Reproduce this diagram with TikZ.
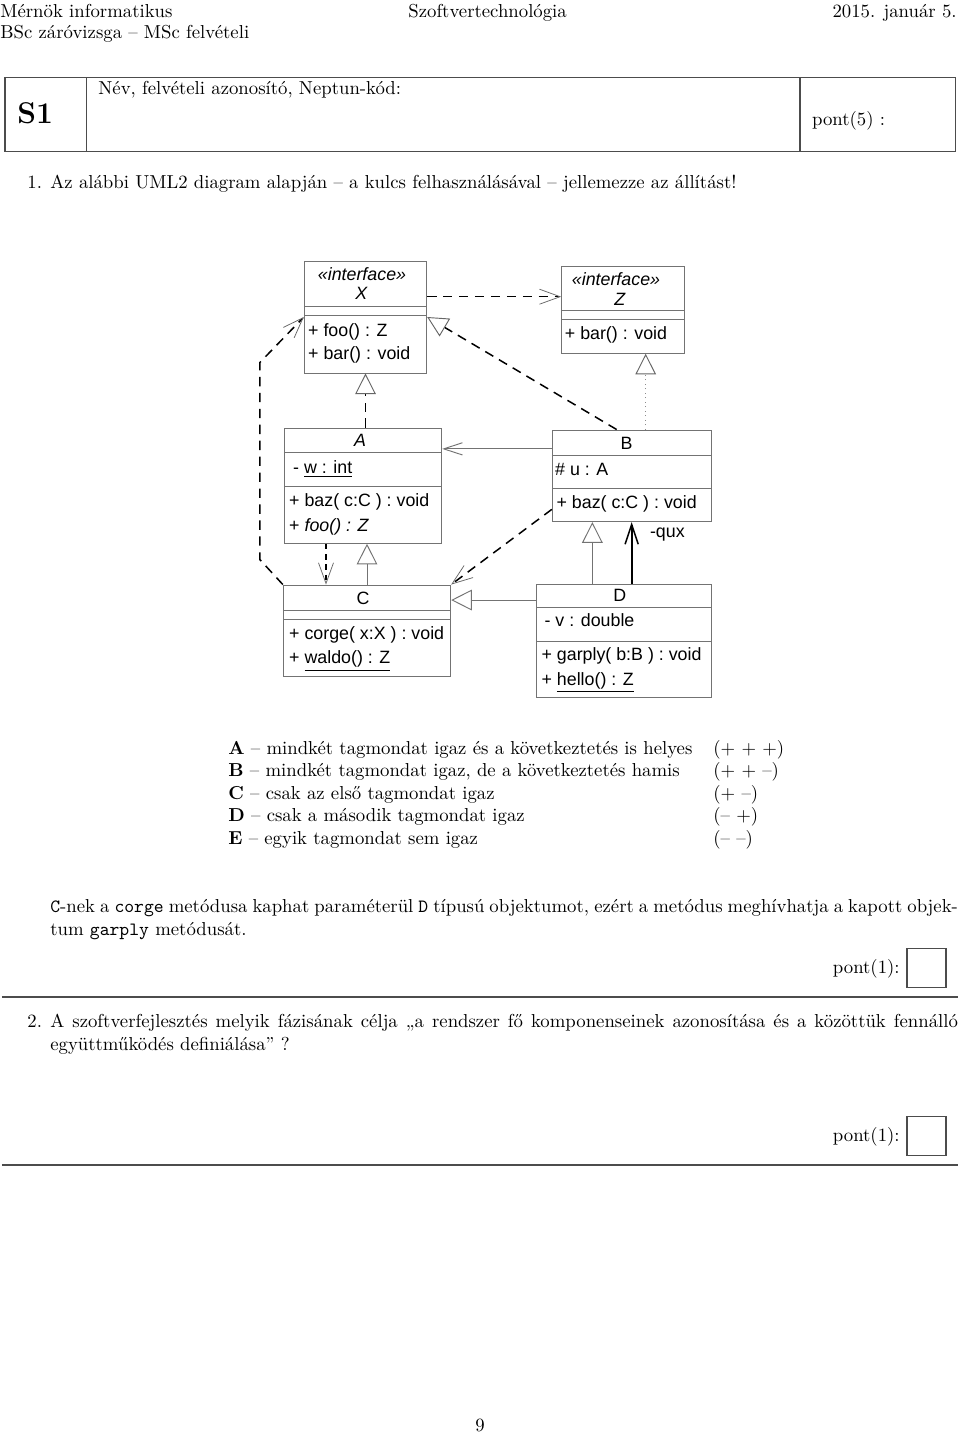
\documentclass[tikz,border=0pt]{standalone}
\usepackage{fontspec}
\newfontfamily\umlfont{Liberation Sans}
\usepackage{tikz}
\usetikzlibrary{arrows.meta, calc, fit}
\tikzset{
  %% Styles %%
  classbox/.style = {draw=black!55, line width=0.5pt, inner sep=0pt},
  sepline/.style = {draw=black!55, line width=0.5pt},
  member/.style = {font=\umlfont\fontsize{9.5}{11}\selectfont, inner sep=0pt, anchor=base west},
  classname/.style = {member, anchor=base},
  %% Connectors
  depline/.style = {
    line width=0.8pt, dash pattern=on 5pt off 3.5pt,
    -{Straight Barb[length=11pt, width=8pt, line width=0.4pt, color=black!60]},
  },
  realline/.style = {
    line width=0.8pt, dash pattern=on 5pt off 3.5pt,
    -{Triangle[open, length=11pt, width=11pt, line width=0.5pt, color=black!60, fill=white]},
  },
  genline/.style = {
    draw=black!55, line width=0.5pt,
    -{Triangle[open, length=11pt, width=11pt, line width=0.5pt, fill=white]},
  },
  assocline/.style = {draw=black!55, line width=0.5pt, -{Straight Barb[length=10pt, width=6.5pt]}},
  navline/.style = {line width=1pt, -{Straight Barb[length=10.5pt, width=7pt, line width=0.8pt]}},
  tablebox/.style = {draw=black!70, line width=0.6pt},
}

\begin{document}
\begin{tikzpicture}[x=0.5333pt, y=-0.5333pt, every node/.style={inner sep=0pt}]
  \useasboundingbox (0,0) rectangle (960,1435);

  % Header
  \node[anchor=base west] (hleft) at (0,17) {Mérnök informatikus};
  \node[anchor=base west] (hmid) at (408,17) {Szoftvertechnológia};
  \node[anchor=base east] (hright) at (957,17) {2015. január 5.};
  \node[anchor=base west] (hleft2) at (0,38) {BSc záróvizsga -- MSc felvételi};

  % Name table
  \draw[tablebox] (5,77.3) rectangle (955.7,151.7);
  \draw[tablebox] (86.7,77.3) -- (86.7,151.7);
  \draw[tablebox] (800,77.3) -- (800,151.7);
  \node[anchor=base, font=\bfseries\fontsize{16}{19}\selectfont] (sone) at (35.3,123.3) {S1};
  \node[anchor=base west] (name) at (98,94.5) {Név, felvételi azonosító, Neptun-kód:};
  \node[anchor=base west] (pontfive) at (811.7,125.3) {pont(5) :};

  \node[anchor=base west] (qnoone) at (27,188) {1.};
  \node[anchor=base west] (qone) at (50,188) {Az alábbi UML2 diagram alapján -- a kulcs felhasználásával -- jellemezze az állítást!};

  % Classes
  \node[classbox, fit={(304.3,261) (426.7,373)}] (X) {};
  \node[classbox, fit={(561.7,266.7) (684.3,353.3)}] (Z) {};
  \node[classbox, fit={(284.3,428.3) (441.7,543.3)}] (A) {};
  \node[classbox, fit={(552.3,430) (711,521.7)}] (B) {};
  \node[classbox, fit={(283.3,585) (450.7,676)}] (C) {};
  \node[classbox, fit={(536.7,584) (711,697.7)}] (D) {};
  \foreach \cls/\dy in {X/45.7, X/54.7, Z/44.3, Z/53.3, A/25, A/58.4, B/26, B/59.3, C/25.7, C/35, D/24.3, D/58.3}
    \draw[sepline] ($(\cls.north west)+(0,\dy)$) -- ($(\cls.north east)+(0,\dy)$);
  \foreach \cls/\dx/\dy/\txt [count=\k] in {X/-3.5/20/{\textit{«interface»}}, X/-4/39/{\textit{X}},
      Z/-7/19/{\textit{«interface»}}, Z/-3/39.3/{\textit{Z}}, A/-3/18.4/{\textit{A}},
      B/-5/20/B, C/-4/20/C, D/-4/18/D}
    \node[classname] (cname\k) at ($(\cls.north)+(\dx,\dy)$) {\txt};
  \foreach \cls/\dx/\dy/\txt [count=\k] in {
      X/4/75.7/{+ foo() : Z}, X/4/99/{+ bar() : void},
      Z/3.3/73.3/{+ bar() : void},
      A/9/46/{- \underline{w : int}}, A/5/78.4/{+ baz( c:C ) : void}, A/5/103.7/{+ \textit{foo() : Z}},
      B/3/46/{\# u : A}, B/4.4/79.3/{+ baz( c:C ) : void},
      C/6/55/{+ corge( x:X ) : void}, C/6/79.3/{+ \underline{waldo() : Z}},
      D/8/43/{- v : double}, D/5/77/{+ garply( b:B ) : void}, D/5/102/{+ \underline{hello() : Z}}}
    \node[member] (mem\k) at ($(\cls.north west)+(\dx,\dy)$) {\txt};

  % Dependencies
  \coordinate (xz) at ($(X.east)+(0,-20.3)$);
  \draw[depline] (xz) -- (xz -| Z.west);
  \draw[depline] (C.north west) -- ++(-23,-25) -- ++(0,-197) -- (X.west);
  \coordinate (ac) at ($(A.south)+(-37,0)$);
  \draw[depline, dash pattern=on 3pt off 2.5pt] (ac) -- (ac |- C.north);
  \draw[depline] ($(B.west)+(0,33.5)$) -- (C.north east);

  % Realizations
  \draw[realline] (X.south |- A.north) -- (X.south);
  \draw[realline] ($(B.north)+(-15,0)$) -- (X.east);
  \coordinate (zb) at ($(Z.south)+(22.7,0)$);
  \draw[realline, draw=black!45, line width=0.4pt, dotted] (zb |- B.north) -- (zb);

  % Generalizations
  \draw[genline] (C.north) -- (C.north |- A.south);
  \coordinate (dc) at ($(D.west)+(0,-40.8)$);
  \draw[genline] (dc) -- (dc -| C.east);
  \coordinate (db) at ($(D.north)+(-31.5,0)$);
  \draw[genline] (db) -- (db |- B.south);

  % Associations
  \coordinate (ba) at ($(B.west)+(0,-27)$);
  \draw[assocline] (ba) -- (ba -| A.east);
  \draw[navline] (B.south |- D.north) -- (B.south);
  \node[member, anchor=west] (qux) at ($(B.south)+(18,12.5)$) {-qux};

  % Answer key
  \foreach \letter/\txt/\sign [count=\k from 0] in {
      A/{mindkét tagmondat igaz és a következtetés is helyes}/{(+ + +)},
      B/{mindkét tagmondat igaz, de a következtetés hamis}/{(+ + --)},
      C/{csak az első tagmondat igaz}/{(+ --)},
      D/{csak a második tagmondat igaz}/{(-- +)},
      E/{egyik tagmondat sem igaz}/{(-- --)}} {
    \node[anchor=base west] (ans\k) at (228,{754.5+22.4*\k}) {\textbf{\letter} -- \txt};
    \node[anchor=base west] (sgn\k) at (713,{754.5+22.4*\k}) {\sign};
  }

  % Statement
  \node[anchor=base west, text width=484pt, align=justify] (stmt) at (50,912.5)
    {\texttt{C}-nek a \texttt{corge} metódusa kaphat paraméterül \texttt{D} típusú objektumot, ezért a metódus meghívhatja a kapott objek-\linebreak tum \texttt{garply} metódusát.};

  \node[anchor=base west] (qnotwo) at (27,1027.5) {2.};
  \node[anchor=base west, text width=484pt, align=justify] (qtwo) at (50,1027.5)
    {A szoftverfejlesztés melyik fázisának célja „a rendszer fő komponenseinek azonosítása és a közöttük fennálló\linebreak együttműködés definiálása” ?};

  % Score boxes
  \foreach \yb [count=\k] in {968, 1136} {
    \node[anchor=base east] (pont\k) at (900,{\yb+5}) {pont(1):};
    \node[draw=black!70, line width=0.6pt, minimum width=20.8pt, minimum height=21pt] (box\k) at (926.5,\yb) {};
    \draw[tablebox] (2,{\yb+29}) -- (958,{\yb+29});
  }

  \node[anchor=base] (pagenum) at (480,1431) {9};
\end{tikzpicture}
\end{document}
